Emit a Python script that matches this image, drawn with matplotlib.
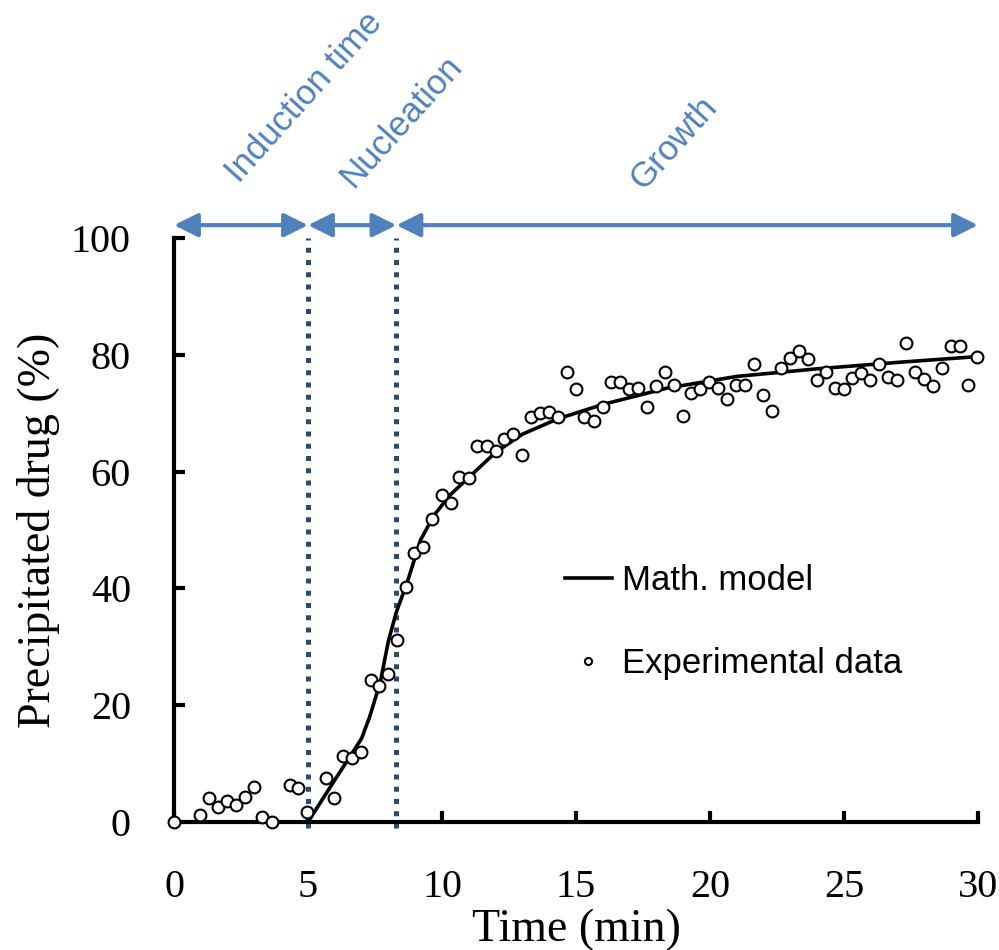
import matplotlib
matplotlib.use("Agg")
import matplotlib.pyplot as plt
import numpy as np

# experimental points (time in min, precipitated drug in %)
exp_time = [0.0, 0.97, 1.3, 1.64, 1.97, 2.3, 2.65, 2.98, 3.3, 3.66, 4.33, 4.63, 4.96,
            5.66, 5.98, 6.31, 6.65, 6.99, 7.34, 7.66, 8.0, 8.31, 8.66,
            8.96, 9.3, 9.64, 9.99, 10.34, 10.65, 11.01, 11.32, 11.67, 12.0, 12.31,
            12.66, 13.0, 13.32, 13.66, 13.99, 14.34, 14.65, 14.99, 15.31, 15.66,
            16.0, 16.31, 16.64, 16.98, 17.31, 17.64, 17.97, 18.31, 18.65, 18.98,
            19.3, 19.64, 19.97, 20.31, 20.65, 20.97, 21.31, 21.64, 21.97, 22.31,
            22.65, 22.99, 23.32, 23.65, 23.98, 24.31, 24.65, 24.99, 25.31, 25.65,
            25.98, 26.32, 26.64, 26.99, 27.31, 27.65, 27.97, 28.31, 28.65, 28.98,
            29.31, 29.64, 29.97]
exp_drug = [0.0, 1.2, 4.1, 2.6, 3.6, 2.9, 4.3, 6.0, 0.9, 0.0, 6.3, 5.8, 1.7,
            7.5, 4.1, 11.3, 10.9, 12.0, 24.4, 23.3, 25.3, 31.2, 40.2,
            46.1, 47.1, 51.8, 56.0, 54.7, 59.1, 58.9, 64.4, 64.4, 63.6, 65.5,
            66.4, 62.9, 69.3, 70.0, 70.2, 69.4, 77.0, 74.2, 69.4, 68.7,
            71.1, 75.4, 75.4, 74.1, 74.4, 71.1, 74.7, 77.0, 74.8, 69.6,
            73.5, 74.2, 75.4, 74.4, 72.5, 74.8, 74.8, 78.5, 73.1, 70.4,
            77.7, 79.4, 80.7, 79.3, 75.6, 77.1, 74.4, 74.1, 76.1, 76.9,
            75.6, 78.4, 76.2, 75.7, 82.0, 77.0, 75.9, 74.7, 77.7, 81.5,
            81.5, 74.9, 79.6]

# math model curve
model_time = [5.0, 6.0, 7.0, 7.3, 7.7, 8.0, 8.3, 8.7, 9.2, 9.7, 10.3, 11.0, 12.0,
              13.0, 14.3, 16.0, 18.4, 21.0, 24.0, 27.0, 30.0]
model_drug = [0.0, 7.2, 14.3, 18.0, 24.0, 31.0, 36.0, 41.0, 48.3, 52.5, 56.0, 59.0,
              63.3, 66.4, 69.0, 71.5, 74.3, 76.3, 77.6, 78.7, 79.7]

phase_edges = [0, 5, 8.3, 30]
phase_names = ["Induction time", "Nucleation", "Growth"]

x_ticks = [0, 5, 10, 15, 20, 25, 30]
y_ticks = [0, 20, 40, 60, 80, 100]

BLUE = "#4F81BD"
NAVY = "#2C4A70"
SERIF = "Liberation Serif"
SANS = "Liberation Sans"

fig = plt.figure(figsize=(9.99, 9.5), dpi=100)
ax = fig.add_axes([174 / 999, 128 / 950, 804 / 999, 584 / 950])

ax.plot(model_time, model_drug, color="black", lw=2.6, label="Math. model", zorder=3)
ax.plot(exp_time, exp_drug, ls="none", marker="o", ms=8.5, mfc="white", mec="black",
        mew=1.5, label="Experimental data", zorder=4, clip_on=False)

# phase boundaries
for edge in phase_edges[1:-1]:
    ax.plot([edge, edge], [-1, 100], color=NAVY, lw=3.6, ls=(0, (1.0, 1.45)),
            solid_capstyle="butt", dash_capstyle="butt", clip_on=False, zorder=2)

# double arrows above the plot
for a, b in zip(phase_edges[:-1], phase_edges[1:]):
    ax.annotate("", xy=(b, 102.2), xytext=(a, 102.2),
                arrowprops=dict(arrowstyle="<|-|>,head_length=1.45,head_width=0.72",
                                color=BLUE, lw=3, shrinkA=0, shrinkB=0),
                annotation_clip=False)

label_pos = [(4.85, 124.1), (8.47, 119.9), (18.66, 116.3)]
for name, (tx, ty) in zip(phase_names, label_pos):
    ax.text(tx, ty, name, rotation=48, ha="center", va="center", color=BLUE,
            fontsize=25, family=SANS, clip_on=False)

ax.set_xlim(0, 30)
ax.set_ylim(0, 100)
ax.set_xticks(x_ticks)
ax.set_yticks(y_ticks)
for s in ["top", "right"]:
    ax.spines[s].set_visible(False)
for s in ["left", "bottom"]:
    ax.spines[s].set_linewidth(3)
ax.tick_params(direction="in", length=8, width=3, labelsize=29)
ax.tick_params(axis="y", pad=31)
ax.tick_params(axis="x", pad=34)
for lab in ax.get_xticklabels() + ax.get_yticklabels():
    lab.set_family(SERIF)

ax.set_xlabel("Time (min)", family=SERIF, fontsize=33, labelpad=2)
ax.set_ylabel("Precipitated drug (%)", family=SERIF, fontsize=33, labelpad=8)

leg = ax.legend(loc="center left", bbox_to_anchor=(565 / 999, 1 - 622 / 950),
                bbox_transform=fig.transFigure, frameon=False, borderpad=0,
                borderaxespad=0, handlelength=1.35, handletextpad=0.3,
                labelspacing=1.45, markerscale=0.6, prop={"family": SANS, "size": 25})

fig.savefig("out.png", dpi=100)
